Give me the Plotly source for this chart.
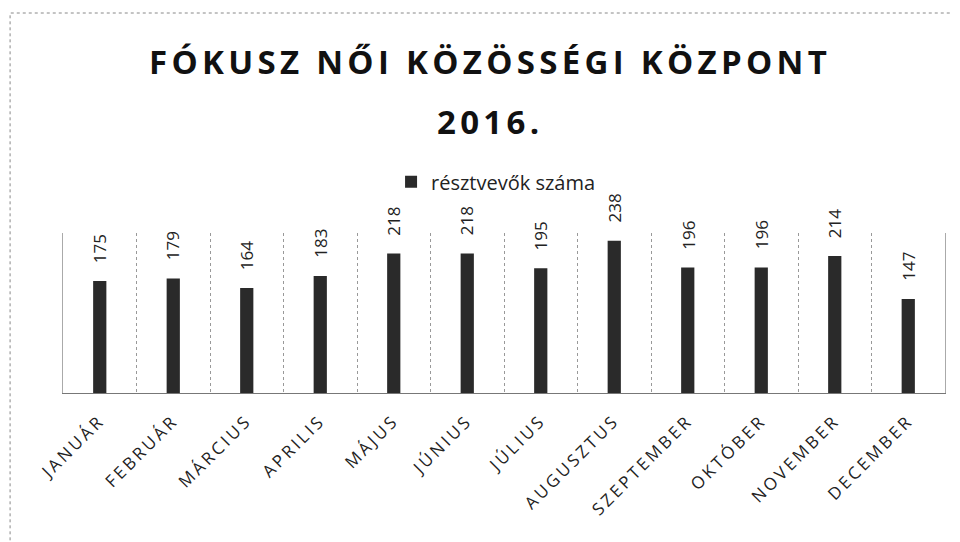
import plotly.graph_objects as go

months = ["JANUÁR", "FEBRUÁR", "MÁRCIUS", "APRILIS", "MÁJUS", "JÚNIUS",
          "JÚLIUS", "AUGUSZTUS", "SZEPTEMBER", "OKTÓBER", "NOVEMBER", "DECEMBER"]
participants = [175, 179, 164, 183, 218, 218, 195, 238, 196, 196, 214, 147]
series_name = "résztvevők száma"
title_line1 = "FÓKUSZ NŐI KÖZÖSSÉGI KÖZPONT"
title_line2 = "2016."

FONT = "Open Sans"


def spaced(txt, px):
    return f'<span style="letter-spacing:{px}px">{txt}</span>'


fig = go.Figure()
fig.add_trace(go.Bar(
    x=months, y=participants, name=series_name,
    marker=dict(color="#2a2a2a", line=dict(width=0)),
    showlegend=True,
))

for m, v in zip(months, participants):
    fig.add_annotation(x=m, y=v, text=str(v), textangle=-90, showarrow=False,
                       xanchor="center", yanchor="bottom", yshift=16,
                       font=dict(family=FONT, size=17, color="#222"))

fig.add_annotation(xref="paper", yref="paper", x=0.484, y=2.07, text=spaced(title_line1, 4.3),
                   showarrow=False, xanchor="center", yanchor="middle",
                   font=dict(family=FONT, size=33, color="#111", weight="bold"))
fig.add_annotation(xref="paper", yref="paper", x=0.484, y=1.70, text=spaced(title_line2, 4.3),
                   showarrow=False, xanchor="center", yanchor="middle",
                   font=dict(family=FONT, size=33, color="#111", weight="bold"))

fig.add_shape(type="rect", xref="paper", yref="paper",
              x0=-0.060, x1=1.06, y0=-1.2, y1=2.375,
              line=dict(color="#888", width=1, dash="dot"), layer="below")

fig.update_layout(
    width=960, height=542,
    margin=dict(l=55, r=23, t=225, b=157, autoexpand=False),
    paper_bgcolor="white", plot_bgcolor="white",
    bargap=0.82,
    legend=dict(orientation="h", x=0.491, xanchor="center", y=1.32, yanchor="middle",
                font=dict(family=FONT, size=20, color="#222"),
                itemwidth=30, bgcolor="rgba(0,0,0,0)"),
    xaxis=dict(
        type="category", tickson="boundaries", showgrid=True,
        gridcolor="#999", griddash="dot", gridwidth=1,
        showline=True, linecolor="#777", linewidth=1,
        ticks="", tickangle=-45, automargin=False, ticklabelstandoff=10,
        tickmode="array", tickvals=months, ticktext=[spaced(m, 3) for m in months],
        tickfont=dict(family=FONT, size=17, color="#222"),
    ),
    yaxis=dict(range=[0, 250], automargin=False, showticklabels=False,
               showgrid=False, zeroline=False, ticks="",
               showline=True, mirror=True, linecolor="#aaa", linewidth=1),
)

fig.write_html("out.html")
